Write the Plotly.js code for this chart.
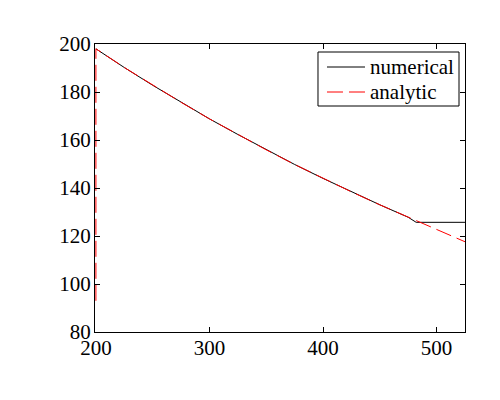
<!DOCTYPE html>
<html>
<head>
<meta charset="utf-8">
<script src="https://cdn.plot.ly/plotly-3.0.1.min.js"></script>
<style>html,body{margin:0;padding:0;background:#fff;}#chart{width:500px;height:400px;}</style>
</head>
<body>
<div id="chart"></div>
<script>
// values
var numX = [200, 225, 250, 275, 300, 325, 350, 375, 400, 425, 450, 475, 482, 525];
var numY = [198, 190.2, 182.8, 175.7, 168.8, 162.3, 155.9, 149.8, 144.0, 138.4, 133.0, 127.8, 125.7, 125.7];
var anaX = [200, 200, 225, 250, 275, 300, 325, 350, 375, 400, 425, 450, 475, 500, 525];
var anaY = [93, 198, 190.2, 182.8, 175.7, 168.8, 162.3, 155.9, 149.8, 144.0, 138.4, 133.0, 127.8, 122.7, 117.6];
var seriesNames = ['numerical', 'analytic'];
var seriesColors = ['#000000', '#ff0000'];
var seriesDash = ['solid', '16px,6px'];
var xTicks = [200, 300, 400, 500];
var yTicks = [80, 100, 120, 140, 160, 180, 200];

var font = {family: 'Liberation Serif, Times New Roman, serif', size: 21, color: '#000'};

var traces = [
  {x: numX, y: numY, name: seriesNames[0], mode: 'lines', line: {color: seriesColors[0], width: 1, dash: seriesDash[0]}},
  {x: anaX, y: anaY, name: seriesNames[1], mode: 'lines', line: {color: seriesColors[1], width: 1, dash: seriesDash[1]}}
];

var axisCommon = {
  showgrid: false, zeroline: false, showline: true, linecolor: '#000', linewidth: 1,
  mirror: 'ticks', ticks: 'inside', ticklen: 5, tickcolor: '#000', tickwidth: 1,
  tickfont: font
};

// MATLAB-style legend box built from shapes + annotations (paper coords)
var legBox = {x0: 0.6027, x1: 0.9838, y0: 0.7847, y1: 0.9722};
var legRowY = [0.9201, 0.8333];
var legLineX = [0.627, 0.7297];
var legTextX = 0.7405;

var shapes = [{
  type: 'rect', xref: 'paper', yref: 'paper',
  x0: legBox.x0, x1: legBox.x1, y0: legBox.y0, y1: legBox.y1,
  line: {color: '#000', width: 1}, fillcolor: '#fff', layer: 'above'
}];
var annotations = [];
seriesNames.forEach(function (nm, i) {
  shapes.push({
    type: 'line', xref: 'paper', yref: 'paper',
    x0: legLineX[0], x1: legLineX[1], y0: legRowY[i], y1: legRowY[i],
    line: {color: seriesColors[i], width: 1, dash: seriesDash[i]}, layer: 'above'
  });
  annotations.push({
    xref: 'paper', yref: 'paper', x: legTextX, y: legRowY[i],
    xanchor: 'left', yanchor: 'middle', text: nm, showarrow: false,
    font: font, borderpad: 0
  });
});

var layout = {
  width: 500, height: 400,
  margin: {l: 95, r: 35, t: 44, b: 68},
  paper_bgcolor: '#fff', plot_bgcolor: '#fff',
  font: font,
  showlegend: false,
  shapes: shapes,
  annotations: annotations,
  xaxis: Object.assign({}, axisCommon, {range: [199.2, 525], tickvals: xTicks, ticktext: xTicks.map(String), ticklabelstandoff: -3}),
  yaxis: Object.assign({}, axisCommon, {range: [80, 200], tickvals: yTicks, ticktext: yTicks.map(String), ticklabelstandoff: -1})
};

Plotly.newPlot('chart', traces, layout, {staticPlot: true, displayModeBar: false});
</script>
</body>
</html>
